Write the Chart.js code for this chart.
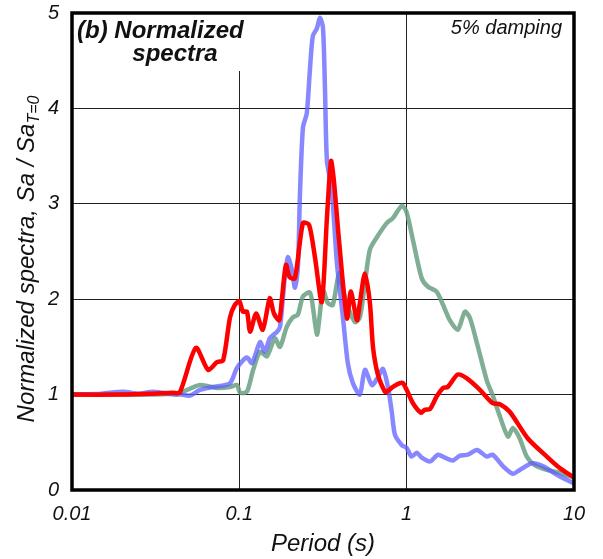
<!DOCTYPE html>
<html>
<head>
<meta charset="utf-8">
<script src="https://cdn.jsdelivr.net/npm/chart.js@4"></script>
<style>
body { margin: 0; background: #fff; }
</style>
</head>
<body>
<canvas id="spectraChart" width="603" height="559"></canvas>
<script>
// axis ticks
var xTicks = [0.01, 0.1, 1, 10];
var yTicks = [0, 1, 2, 3, 4, 5];

// red record
var redT = [0.01, 0.02, 0.03, 0.04, 0.044, 0.055, 0.065, 0.0735, 0.08, 0.088, 0.094, 0.1, 0.105, 0.111, 0.116, 0.126, 0.138, 0.152, 0.161, 0.173, 0.18, 0.19, 0.2, 0.215, 0.24, 0.261, 0.283, 0.311, 0.334, 0.353, 0.367, 0.394, 0.44, 0.464, 0.504, 0.525, 0.563, 0.603, 0.629, 0.673, 0.741, 0.76, 0.828, 0.91, 0.95, 1.0, 1.09, 1.22, 1.28, 1.38, 1.51, 1.65, 1.76, 2.02, 2.29, 2.74, 3.27, 3.61, 4.13, 5.3, 6.88, 8.22, 10];
var redSa = [1.00, 1.00, 1.01, 1.02, 1.02, 1.49, 1.26, 1.34, 1.36, 1.81, 1.94, 1.98, 1.87, 1.87, 1.66, 1.85, 1.68, 2.01, 1.85, 1.78, 2.02, 2.36, 2.23, 2.22, 2.80, 2.78, 2.44, 1.97, 2.86, 3.45, 3.25, 2.62, 1.80, 2.08, 1.78, 1.96, 2.27, 1.96, 1.50, 1.21, 1.03, 1.03, 1.08, 1.12, 1.12, 1.05, 0.91, 0.81, 0.84, 0.85, 0.98, 1.07, 1.08, 1.21, 1.17, 1.05, 0.91, 0.90, 0.82, 0.54, 0.35, 0.23, 0.13];

// blue record
var blueT = [0.01, 0.015, 0.0202, 0.025, 0.0305, 0.0412, 0.045, 0.0507, 0.0582, 0.0696, 0.0879, 0.0968, 0.111, 0.119, 0.133, 0.142, 0.152, 0.168, 0.175, 0.187, 0.195, 0.206, 0.215, 0.224, 0.23, 0.24, 0.253, 0.264, 0.275, 0.291, 0.303, 0.316, 0.325, 0.334, 0.357, 0.383, 0.416, 0.445, 0.477, 0.525, 0.563, 0.62, 0.673, 0.721, 0.773, 0.816, 0.851, 0.936, 1.0, 1.07, 1.15, 1.23, 1.38, 1.54, 1.69, 1.89, 2.08, 2.32, 2.63, 3.01, 3.27, 3.76, 4.31, 4.74, 5.6, 6.51, 7.89, 10];
var blueSa = [1.00, 1.01, 1.03, 1.01, 1.03, 1.00, 1.00, 0.99, 1.05, 1.08, 1.12, 1.28, 1.39, 1.33, 1.55, 1.45, 1.59, 1.66, 1.71, 2.23, 2.44, 2.31, 2.12, 2.34, 3.07, 3.80, 3.95, 4.40, 4.76, 4.84, 4.95, 4.85, 4.20, 3.45, 3.14, 2.38, 1.81, 1.33, 1.12, 1.00, 1.26, 1.10, 1.18, 1.27, 1.08, 0.81, 0.58, 0.47, 0.44, 0.35, 0.39, 0.34, 0.30, 0.37, 0.34, 0.31, 0.36, 0.37, 0.42, 0.35, 0.37, 0.25, 0.17, 0.21, 0.28, 0.25, 0.16, 0.07];

// green record
var greenT = [0.01, 0.02, 0.03, 0.044, 0.0582, 0.0735, 0.0879, 0.0968, 0.101, 0.111, 0.121, 0.133, 0.146, 0.163, 0.175, 0.192, 0.209, 0.224, 0.24, 0.264, 0.275, 0.291, 0.303, 0.316, 0.338, 0.362, 0.394, 0.416, 0.445, 0.491, 0.525, 0.563, 0.603, 0.664, 0.762, 0.828, 0.936, 1.0, 1.09, 1.23, 1.34, 1.51, 1.65, 1.81, 2.02, 2.23, 2.39, 2.63, 3.01, 3.27, 3.61, 4.03, 4.31, 4.74, 5.22, 5.83, 6.88, 8.22, 10];
var greenSa = [1.00, 1.00, 1.00, 1.02, 1.10, 1.07, 1.08, 1.10, 1.02, 1.03, 1.26, 1.45, 1.40, 1.59, 1.50, 1.71, 1.81, 1.84, 2.03, 2.07, 1.92, 1.63, 1.85, 2.10, 1.96, 1.94, 2.27, 2.10, 1.92, 1.76, 1.81, 2.17, 2.52, 2.65, 2.80, 2.85, 2.98, 2.91, 2.62, 2.22, 2.13, 2.08, 1.94, 1.78, 1.68, 1.87, 1.80, 1.54, 1.15, 0.99, 0.77, 0.56, 0.65, 0.54, 0.35, 0.26, 0.21, 0.18, 0.13];

function toPoints(ts, vals) {
    return ts.map(function (t, i) { return { x: t, y: vals[i] }; });
}

var fontFamily = "'Liberation Sans', Arial, sans-serif";
Chart.defaults.font.family = fontFamily;
Chart.defaults.color = '#111';

// title box, labels and frame drawn on top
var decorPlugin = {
    id: 'decor',
    afterDraw: function (chart) {
        var ctx = chart.ctx;
        var a = chart.chartArea;
        ctx.save();

        // white box behind the panel title
        ctx.fillStyle = '#fff';
        ctx.fillRect(a.left, a.top, 176, 58);

        ctx.fillStyle = '#111';
        ctx.textBaseline = 'alphabetic';
        ctx.font = 'italic bold 24px ' + fontFamily;
        ctx.textAlign = 'left';
        ctx.fillText('(b) Normalized', a.left + 5, a.top + 25);
        ctx.textAlign = 'center';
        ctx.fillText('spectra', 175, a.top + 48);

        ctx.font = 'italic 20px ' + fontFamily;
        ctx.textAlign = 'right';
        ctx.fillText('5% damping', a.right - 12, a.top + 21);

        // y axis title with subscript
        var main = 'Normalized spectra, Sa / Sa';
        var sub = 'T=0';
        ctx.font = 'italic 24px ' + fontFamily;
        var w1 = ctx.measureText(main).width;
        ctx.font = 'italic 16px ' + fontFamily;
        var w2 = ctx.measureText(sub).width;
        ctx.translate(34, 259);
        ctx.rotate(-Math.PI / 2);
        ctx.textAlign = 'left';
        ctx.font = 'italic 24px ' + fontFamily;
        ctx.fillText(main, -(w1 + w2) / 2, 0);
        ctx.font = 'italic 16px ' + fontFamily;
        ctx.fillText(sub, -(w1 + w2) / 2 + w1, 5);
        ctx.restore();

        // frame
        ctx.save();
        ctx.strokeStyle = '#000';
        ctx.lineWidth = 3.5;
        ctx.strokeRect(a.left, a.top, a.right - a.left, a.bottom - a.top);
        ctx.restore();
    }
};

var ctx = document.getElementById('spectraChart').getContext('2d');
var spectraChart = new Chart(ctx, {
    type: 'line',
    data: {
        datasets: [{
            label: 'Red',
            data: toPoints(redT, redSa),
            borderColor: '#ff0000',
            borderWidth: 4.5
        },
        {
            label: 'Blue',
            data: toPoints(blueT, blueSa),
            borderColor: 'rgba(95, 95, 255, 0.75)',
            borderWidth: 4.5
        },
        {
            label: 'Green',
            data: toPoints(greenT, greenSa),
            borderColor: 'rgba(105, 160, 130, 0.85)',
            borderWidth: 4.5
        }]
    },
    options: {
        responsive: false,
        animation: false,
        elements: {
            point: { radius: 0 },
            line: { tension: 0.25, borderJoinStyle: 'round', borderCapStyle: 'round' }
        },
        layout: { padding: { top: 13, right: 29, left: 0, bottom: 0 } },
        plugins: {
            legend: { display: false },
            tooltip: { enabled: false }
        },
        scales: {
            x: {
                type: 'logarithmic',
                min: 0.01,
                max: 10,
                afterBuildTicks: function (scale) {
                    scale.ticks = xTicks.map(function (v) { return { value: v }; });
                },
                afterFit: function (scale) {
                    scale.height = 69;
                    scale.paddingLeft = 0;
                    scale.paddingRight = 0;
                },
                ticks: {
                    callback: function (value) { return String(value); },
                    font: { size: 20, style: 'italic' },
                    color: '#111',
                    padding: 12,
                    maxRotation: 0,
                    autoSkip: false
                },
                grid: { color: '#222', lineWidth: 1, drawTicks: false },
                border: { display: false },
                title: {
                    display: true,
                    text: 'Period (s)',
                    font: { size: 24, style: 'italic' },
                    color: '#111',
                    padding: { top: 0, bottom: 0 }
                }
            },
            y: {
                min: 0,
                max: 5,
                afterBuildTicks: function (scale) {
                    scale.ticks = yTicks.map(function (v) { return { value: v }; });
                },
                afterFit: function (scale) {
                    scale.width = 72;
                    scale.paddingTop = 0;
                    scale.paddingBottom = 0;
                },
                ticks: {
                    font: { size: 20, style: 'italic' },
                    color: '#111',
                    padding: 13
                },
                grid: { color: '#222', lineWidth: 1, drawTicks: false },
                border: { display: false }
            }
        }
    },
    plugins: [decorPlugin]
});
</script>
</body>
</html>
